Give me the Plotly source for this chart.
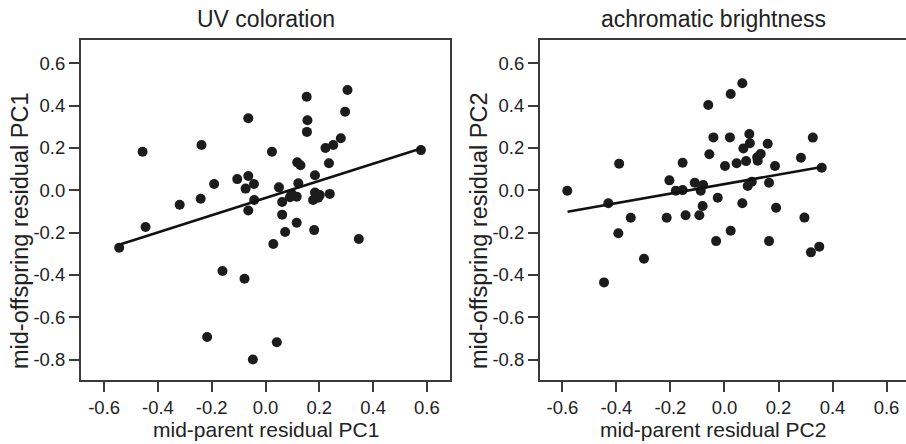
import plotly.graph_objects as go

# ---- data: UV coloration (PC1) ----
uv_parent = [-0.544, -0.457, -0.446, -0.319, -0.241, -0.238, -0.217, -0.191, -0.160, -0.105,
             -0.078, -0.074, -0.064, -0.064, -0.064, -0.047, -0.043, -0.042, 0.024, 0.029,
             0.042, 0.050, 0.062, 0.062, 0.073, 0.091, 0.097, 0.116, 0.116, 0.118,
             0.122, 0.130, 0.153, 0.154, 0.156, 0.177, 0.181, 0.184, 0.184, 0.196,
             0.202, 0.223, 0.236, 0.239, 0.252, 0.280, 0.296, 0.305, 0.347, 0.578]
uv_offspring = [-0.271, 0.182, -0.173, -0.068, -0.040, 0.214, -0.693, 0.030, -0.381, 0.053,
                -0.418, 0.008, 0.340, 0.068, -0.095, -0.799, 0.030, -0.046, 0.182, -0.254,
                -0.718, 0.014, -0.055, -0.115, -0.197, -0.033, -0.017, -0.030, -0.153, 0.132,
                0.033, 0.118, 0.442, 0.276, 0.331, -0.046, -0.188, 0.071, -0.010, -0.035,
                -0.022, 0.200, 0.128, -0.017, 0.214, 0.246, 0.371, 0.474, -0.230, 0.190]
uv_fit_x = [-0.544, 0.578]
uv_fit_y = [-0.257, 0.198]

# ---- data: achromatic brightness (PC2) ----
br_parent = [-0.582, -0.446, -0.430, -0.393, -0.390, -0.347, -0.298, -0.214, -0.204, -0.180,
             -0.155, -0.155, -0.144, -0.110, -0.093, -0.088, -0.081, -0.079, -0.060, -0.056,
             -0.041, -0.031, -0.025, 0.002, 0.020, 0.023, 0.023, 0.045, 0.066, 0.066,
             0.070, 0.080, 0.086, 0.092, 0.094, 0.101, 0.121, 0.123, 0.134, 0.160,
             0.165, 0.165, 0.187, 0.191, 0.283, 0.296, 0.320, 0.327, 0.351, 0.360]
br_offspring = [-0.002, -0.435, -0.061, -0.203, 0.126, -0.130, -0.323, -0.130, 0.047, -0.002,
                0.130, 0.001, -0.118, 0.036, -0.118, -0.002, -0.074, 0.025, 0.403, 0.170,
                0.250, -0.240, -0.035, 0.115, 0.250, 0.455, -0.191, 0.128, 0.506, -0.061,
                0.198, 0.138, 0.020, 0.266, 0.222, 0.041, 0.156, 0.140, 0.172, 0.220,
                0.036, -0.240, 0.115, -0.082, 0.154, -0.129, -0.293, 0.249, -0.266, 0.107]
br_fit_x = [-0.581, 0.360]
br_fit_y = [-0.101, 0.110]

titles = ["UV coloration", "achromatic brightness"]
x_labels = ["mid-parent residual PC1", "mid-parent residual PC2"]
y_labels = ["mid-offspring residual PC1", "mid-offspring residual PC2"]
tick_vals = [-0.8, -0.6, -0.4, -0.2, 0.0, 0.2, 0.4, 0.6]
tick_text = ["-0.8", "-0.6", "-0.4", "-0.2", "0.0", "0.2", "0.4", "0.6"]

FONT = "Liberation Sans, Arial, Helvetica, sans-serif"
DOT = "#1c1c1c"
AX = "#3a3a3a"

fig = go.Figure()

fig.add_trace(go.Scatter(x=uv_parent, y=uv_offspring, mode="markers",
                         marker=dict(size=10, color=DOT), xaxis="x", yaxis="y", showlegend=False))
fig.add_trace(go.Scatter(x=uv_fit_x, y=uv_fit_y, mode="lines",
                         line=dict(color="#111111", width=2.6), xaxis="x", yaxis="y", showlegend=False))
fig.add_trace(go.Scatter(x=br_parent, y=br_offspring, mode="markers",
                         marker=dict(size=10, color=DOT), xaxis="x2", yaxis="y2", showlegend=False))
fig.add_trace(go.Scatter(x=br_fit_x, y=br_fit_y, mode="lines",
                         line=dict(color="#111111", width=2.6), xaxis="x2", yaxis="y2", showlegend=False))

W, H = 906, 444
top, bottom = 40, 380
ydom = [1 - bottom / H, 1 - top / H]

common_x = dict(tickvals=tick_vals[1:], ticktext=tick_text[1:], ticks="outside", ticklen=10,
                tickwidth=1.5, tickcolor=AX, showgrid=False, zeroline=False, showline=True,
                linecolor=AX, linewidth=2, mirror=True,
                tickfont=dict(family=FONT, size=18.5, color="#222"))
common_y = dict(tickvals=tick_vals, ticktext=tick_text, ticks="outside", ticklen=10,
                tickwidth=1.5, tickcolor=AX, showgrid=False, zeroline=False, showline=True,
                linecolor=AX, linewidth=2,
                tickfont=dict(family=FONT, size=18.5, color="#222"))

fig.update_layout(
    width=W, height=H, margin=dict(l=0, r=0, t=0, b=0),
    paper_bgcolor="white", plot_bgcolor="white",
    xaxis=dict(domain=[81 / W, 450 / W], range=[-0.686, 0.686], anchor="y", **common_x),
    yaxis=dict(domain=ydom, range=[-0.896, 0.710], anchor="x", mirror=True, **common_y),
    xaxis2=dict(domain=[540 / W, 1.0], range=[-0.683, 0.672], anchor="y2", **common_x),
    yaxis2=dict(domain=ydom, range=[-0.896, 0.710], anchor="x2", mirror=False, **common_y),
)

title_x = [265.5 / W, 713 / W]
ylab_x = [20 / W, 479 / W]
for i in range(2):
    fig.add_annotation(text=titles[i], x=title_x[i], y=1 - 19 / H, xref="paper", yref="paper",
                       showarrow=False, xanchor="center", yanchor="middle",
                       font=dict(family=FONT, size=23, color="#222"))
    fig.add_annotation(text=x_labels[i], x=title_x[i], y=1 - 429 / H, xref="paper", yref="paper",
                       showarrow=False, xanchor="center", yanchor="middle",
                       font=dict(family=FONT, size=21, color="#222"))
    fig.add_annotation(text=y_labels[i], x=ylab_x[i], y=1 - 231 / H, xref="paper", yref="paper",
                       showarrow=False, xanchor="center", yanchor="middle", textangle=-90,
                       font=dict(family=FONT, size=23.5, color="#222"))

fig.write_html("out.html")
